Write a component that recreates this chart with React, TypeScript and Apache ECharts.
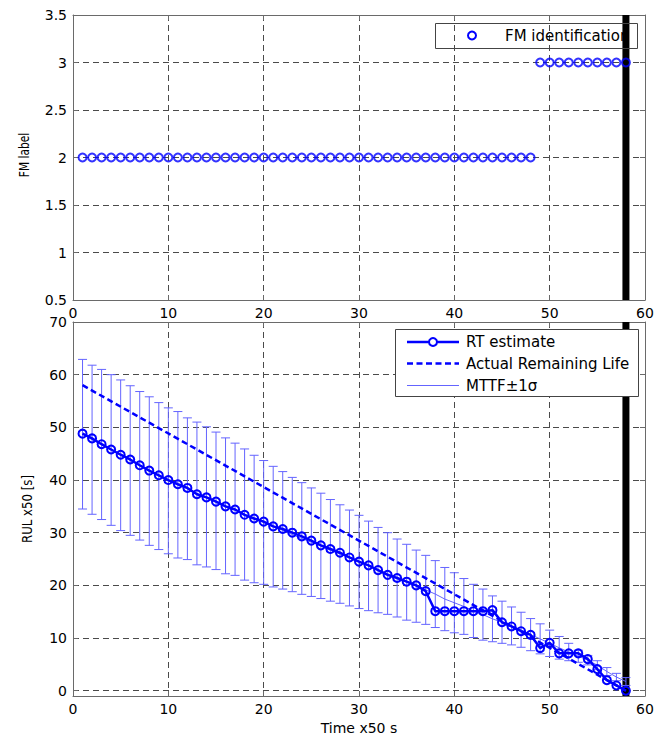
import React, { useEffect, useRef } from "react";
import * as echarts from "echarts";

// ---------- data ----------
const timeSteps = [
  1, 2, 3, 4, 5, 6, 7, 8, 9, 10, 11, 12, 13, 14, 15, 16, 17, 18, 19, 20,
  21, 22, 23, 24, 25, 26, 27, 28, 29, 30, 31, 32, 33, 34, 35, 36, 37, 38, 39, 40,
  41, 42, 43, 44, 45, 46, 47, 48, 49, 50, 51, 52, 53, 54, 55, 56, 57, 58,
];

const fmLabels = [
  2, 2, 2, 2, 2, 2, 2, 2, 2, 2, 2, 2, 2, 2, 2, 2, 2, 2, 2, 2,
  2, 2, 2, 2, 2, 2, 2, 2, 2, 2, 2, 2, 2, 2, 2, 2, 2, 2, 2, 2,
  2, 2, 2, 2, 2, 2, 2, 2, 3, 3, 3, 3, 3, 3, 3, 3, 3, 3,
];

const rtEstimate = [
  48.8, 47.9, 46.8, 45.8, 44.8, 43.9, 42.8, 41.8, 40.9, 40.0,
  39.2, 38.5, 37.3, 36.7, 35.9, 35.0, 34.4, 33.4, 32.7, 32.1,
  31.2, 30.7, 30.0, 29.3, 28.5, 27.6, 26.9, 26.2, 25.3, 24.5,
  23.8, 22.9, 22.0, 21.4, 20.7, 20.0, 18.9, 15.1, 15.1, 15.1,
  15.1, 15.1, 15.1, 15.3, 13.0, 12.2, 11.3, 10.6, 8.1, 9.1,
  7.1, 7.1, 7.1, 6.0, 4.1, 2.0, 1.0, 0.0,
];

const mttfUpper = [
  62.9, 61.8, 61.0, 60.0, 59.0, 57.9, 56.8, 55.8, 54.7, 53.7,
  53.0, 51.8, 51.0, 50.1, 49.1, 48.0, 47.0, 45.9, 44.7, 43.7,
  42.6, 41.6, 40.5, 39.5, 38.5, 37.5, 36.3, 35.3, 34.3, 33.3,
  32.2, 31.0, 30.0, 28.8, 27.8, 26.7, 25.7, 24.7, 23.4, 22.4,
  21.3, 20.2, 19.3, 18.0, 17.0, 15.9, 14.9, 13.7, 12.7, 11.5,
  10.3, 9.0, 7.7, 6.7, 5.7, 4.4, 3.3, 2.5,
];

const mttfLower = [
  34.5, 33.5, 32.5, 31.4, 30.4, 29.5, 28.6, 27.6, 26.8, 26.0,
  25.2, 24.9, 23.9, 23.5, 23.0, 22.2, 21.9, 21.0, 20.5, 20.2,
  19.7, 19.3, 18.8, 18.3, 17.9, 17.5, 17.0, 16.6, 16.1, 15.6,
  15.2, 14.8, 14.5, 14.0, 13.4, 13.0, 12.6, 12.0, 11.4, 11.0,
  10.7, 10.1, 9.6, 9.3, 9.0, 8.7, 8.25, 7.6, 7.0, 6.5,
  6.0, 5.7, 5.4, 4.9, 4.0, 2.9, 1.9, 1.0,
];

// actual remaining life: straight line between its end points
const actualLifeTimes = [1, 58];
const actualLifeValues = [58, 0];

const failureTime = 58;

const xTicks = [0, 10, 20, 30, 40, 50, 60];
const fmTicks = [0.5, 1, 1.5, 2, 2.5, 3, 3.5];
const rulTicks = [0, 10, 20, 30, 40, 50, 60, 70];

// ---------- styles ----------
const BLUE = "#0000ff";
const BAR_BLUE = "#6464ff";
const AXIS_GRAY = "#6a6a6a";
const GRID_GRAY = "#4a4a4a";
const FONT = "DejaVu Sans";

export default function App() {
  const ref = useRef<HTMLDivElement>(null);

  useEffect(() => {
    if (!ref.current) return;
    const chart = echarts.init(ref.current, null, { renderer: "svg" });

    const splitLine = {
      show: true,
      lineStyle: { color: GRID_GRAY, width: 1, type: [6, 4] },
    };
    const axisLine = { show: true, onZero: false, lineStyle: { color: AXIS_GRAY, width: 1 } };
    const axisTick = { show: true, inside: true, length: 5, lineStyle: { color: AXIS_GRAY } };
    const axisLabel = {
      color: "#000",
      fontFamily: FONT,
      fontSize: 14,
      margin: 6,
    };

    const xMain = (gridIndex: number, extra: any = {}) => ({
      type: "value",
      gridIndex,
      min: xTicks[0],
      max: xTicks[xTicks.length - 1],
      interval: 10,
      axisLine,
      axisTick,
      axisLabel,
      splitLine,
      ...extra,
    });
    const xTop = (gridIndex: number) => ({
      type: "value",
      gridIndex,
      position: "top",
      min: xTicks[0],
      max: xTicks[xTicks.length - 1],
      interval: 10,
      axisLine,
      axisTick,
      axisLabel: { show: false },
      splitLine: { show: false },
    });

    const errorBarData = timeSteps.map((t, i) => [t, mttfUpper[i], mttfLower[i]]);
    const mttfCenter = timeSteps.map((t, i) => [t, (mttfUpper[i] + mttfLower[i]) / 2]);

    // vertical failure-time marker spanning the whole plot area
    const failureSeries = (axisIndex: number) => ({
      type: "custom",
      xAxisIndex: axisIndex,
      yAxisIndex: axisIndex,
      data: [[failureTime]],
      encode: { x: 0 },
      z: 1,
      silent: true,
      clip: false,
      renderItem: (params: any, api: any) => {
        const cs = params.coordSys;
        const px = api.coord([api.value(0), 0])[0];
        return {
          type: "line",
          shape: { x1: px, y1: cs.y, x2: px, y2: cs.y + cs.height },
          style: { stroke: "#000", lineWidth: 7 },
        };
      },
    });

    const legendText = (text: string, x: number, y: number) => ({
      type: "text",
      x,
      y,
      style: {
        text,
        fill: "#000",
        fontFamily: FONT,
        fontSize: 15,
        verticalAlign: "middle",
        align: "left",
      },
    });

    // legends drawn last (on top of every plot mark)
    const legendSeries = {
      type: "custom",
      coordinateSystem: "none",
      data: [0],
      z: 50,
      silent: true,
      renderItem: () => ({
        type: "group",
        children: [
          // top legend (transparent)
          {
            type: "rect",
            shape: { x: 435.5, y: 23.5, width: 202, height: 25 },
            style: { fill: "rgba(255,255,255,0)", stroke: "#444", lineWidth: 1 },
          },
          {
            type: "circle",
            shape: { cx: 472, cy: 35.5, r: 4 },
            style: { fill: "rgba(0,0,0,0)", stroke: BLUE, lineWidth: 2 },
          },
          legendText("FM identification", 505, 36),
          // bottom legend (opaque)
          {
            type: "rect",
            shape: { x: 395.5, y: 329.5, width: 243, height: 67 },
            style: { fill: "#fff", stroke: "#444", lineWidth: 1 },
          },
          {
            type: "line",
            shape: { x1: 407, y1: 342, x2: 459, y2: 342 },
            style: { stroke: BLUE, lineWidth: 2.5 },
          },
          {
            type: "circle",
            shape: { cx: 433, cy: 342, r: 4 },
            style: { fill: "#fff", stroke: BLUE, lineWidth: 2 },
          },
          legendText("RT estimate", 466, 342),
          {
            type: "line",
            shape: { x1: 407, y1: 363.5, x2: 459, y2: 363.5 },
            style: { stroke: BLUE, lineWidth: 2.5, lineDash: [6, 3.5] },
          },
          legendText("Actual Remaining Life", 466, 363.5),
          {
            type: "line",
            shape: { x1: 407, y1: 385.5, x2: 459, y2: 385.5 },
            style: { stroke: BAR_BLUE, lineWidth: 1 },
          },
          legendText("MTTF±1σ", 466, 385.5),
        ],
      }),
    };

    const option: any = {
      animation: false,
      backgroundColor: "#ffffff",
      grid: [
        { left: 73, right: 24, top: 15, height: 285 },
        { left: 73, right: 24, top: 322, height: 376 },
      ],
      xAxis: [
        xMain(0),
        xMain(1, {
          name: "Time x50 s",
          nameLocation: "middle",
          nameGap: 25,
          nameTextStyle: {
            color: "#000",
            fontFamily: FONT,
            fontSize: 14,
            verticalAlign: "top",
          },
        }),
        xTop(0),
        xTop(1),
      ],
      yAxis: [
        {
          type: "value",
          gridIndex: 0,
          min: fmTicks[0],
          max: fmTicks[fmTicks.length - 1],
          interval: 0.5,
          axisLine,
          axisTick,
          axisLabel,
          splitLine,
        },
        {
          type: "value",
          gridIndex: 1,
          min: -1,
          max: rulTicks[rulTicks.length - 1],
          axisLine,
          axisTick: { ...axisTick, customValues: rulTicks },
          axisLabel: { ...axisLabel, customValues: rulTicks },
          splitLine,
        },
        {
          type: "value",
          gridIndex: 0,
          position: "right",
          min: fmTicks[0],
          max: fmTicks[fmTicks.length - 1],
          interval: 0.5,
          axisLine,
          axisTick,
          axisLabel: { show: false },
          splitLine: { show: false },
        },
        {
          type: "value",
          gridIndex: 1,
          position: "right",
          min: -1,
          max: rulTicks[rulTicks.length - 1],
          axisLine,
          axisTick: { ...axisTick, customValues: rulTicks },
          axisLabel: { show: false, customValues: rulTicks },
          splitLine: { show: false },
        },
      ],
      series: [
        failureSeries(0),
        {
          name: "FM identification",
          type: "scatter",
          xAxisIndex: 0,
          yAxisIndex: 0,
          data: timeSteps.map((t, i) => [t, fmLabels[i]]),
          symbol: "circle",
          symbolSize: 8,
          itemStyle: { color: "rgba(0,0,0,0)", borderColor: BLUE, borderWidth: 2 },
          z: 5,
        },
        failureSeries(1),
        {
          name: "MTTF±1σ bars",
          type: "custom",
          xAxisIndex: 1,
          yAxisIndex: 1,
          data: errorBarData,
          encode: { x: 0, y: [1, 2] },
          z: 2,
          renderItem: (params: any, api: any) => {
            const x = api.value(0);
            const top = api.coord([x, api.value(1)]);
            const bot = api.coord([x, api.value(2)]);
            const w = 4.5;
            const style = { stroke: BAR_BLUE, lineWidth: 1 };
            return {
              type: "group",
              children: [
                { type: "line", shape: { x1: top[0], y1: top[1], x2: bot[0], y2: bot[1] }, style },
                { type: "line", shape: { x1: top[0] - w, y1: top[1], x2: top[0] + w, y2: top[1] }, style },
                { type: "line", shape: { x1: bot[0] - w, y1: bot[1], x2: bot[0] + w, y2: bot[1] }, style },
              ],
            };
          },
        },
        {
          name: "MTTF±1σ",
          type: "line",
          xAxisIndex: 1,
          yAxisIndex: 1,
          data: mttfCenter,
          symbol: "none",
          lineStyle: { color: BAR_BLUE, width: 1 },
          z: 3,
        },
        {
          name: "Actual Remaining Life",
          type: "line",
          xAxisIndex: 1,
          yAxisIndex: 1,
          data: actualLifeTimes.map((t, i) => [t, actualLifeValues[i]]),
          symbol: "none",
          lineStyle: { color: BLUE, width: 2.5, type: [6, 3.5] },
          z: 4,
        },
        {
          name: "RT estimate",
          type: "line",
          xAxisIndex: 1,
          yAxisIndex: 1,
          data: timeSteps.map((t, i) => [t, rtEstimate[i]]),
          symbol: "circle",
          symbolSize: 8,
          showAllSymbol: true,
          itemStyle: { color: "rgba(0,0,0,0)", borderColor: BLUE, borderWidth: 2 },
          lineStyle: { color: BLUE, width: 2.5 },
          z: 5,
        },
        legendSeries,
      ],
      graphic: {
        elements: [
          // y-axis titles
          {
            type: "text",
            x: 24,
            y: 155,
            rotation: Math.PI / 2,
            scaleX: 0.76,
            style: {
              text: "FM label",
              fill: "#000",
              fontFamily: FONT,
              fontSize: 14,
              align: "center",
              verticalAlign: "middle",
            },
          },
          {
            type: "text",
            x: 27,
            y: 509,
            rotation: Math.PI / 2,
            scaleX: 0.84,
            style: {
              text: "RUL x50 [s]",
              fill: "#000",
              fontFamily: FONT,
              fontSize: 14,
              align: "center",
              verticalAlign: "middle",
            },
          },
        ],
      },
    };

    chart.setOption(option);
    return () => chart.dispose();
  }, []);

  return (
    <div
      ref={ref}
      style={{ position: "absolute", left: 0, top: 0, width: 669, height: 740, background: "#fff" }}
    />
  );
}
